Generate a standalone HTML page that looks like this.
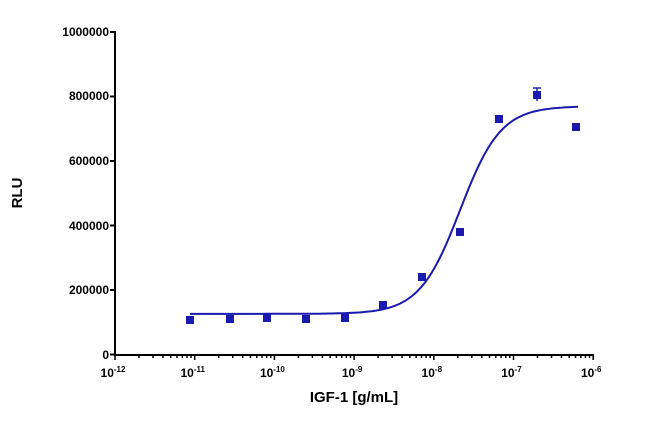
<!DOCTYPE html>
<html><head><style>
body{margin:0;background:#fff;}
svg{display:block;font-family:"Liberation Sans",Arial,sans-serif;font-weight:bold;}
</style></head><body>
<svg id="s" width="650" height="423" xmlns="http://www.w3.org/2000/svg">
<g fill="#000" font-size="12" text-anchor="end">
<text x="109" y="36">1000000</text>
<text x="109" y="100">800000</text>
<text x="109" y="165">600000</text>
<text x="109" y="230">400000</text>
<text x="109" y="294">200000</text>
<text x="109" y="359">0</text>
</g>
<g stroke="#000" stroke-width="2">
<line x1="115" y1="31" x2="115" y2="355"/>
<line x1="114" y1="355" x2="594" y2="355"/>
<line x1="110" y1="32" x2="115" y2="32"/>
<line x1="110" y1="96.5" x2="115" y2="96.5"/>
<line x1="110" y1="161" x2="115" y2="161"/>
<line x1="110" y1="225.5" x2="115" y2="225.5"/>
<line x1="110" y1="290" x2="115" y2="290"/>
<line x1="110" y1="354.5" x2="115" y2="354.5"/>
</g>
<g id="xt" stroke="#000" stroke-width="1.5"></g>
<g id="xl" fill="#000" font-size="12" text-anchor="middle"></g>
<text x="22" y="193" font-size="15" text-anchor="middle" transform="rotate(-90 22 193)">RLU</text>
<text x="354" y="402" font-size="15" text-anchor="middle">IGF-1 [g/mL]</text>
<path id="c" fill="none" stroke="#1a1aae" stroke-width="2"/>
<g id="pts" fill="#1a1aae" stroke="#1a1aae"></g>
</svg>
<script>
var X0=115,D=79.7,ns="http://www.w3.org/2000/svg";
function el(t,a,p){var e=document.createElementNS(ns,t);for(var k in a)e.setAttribute(k,a[k]);document.getElementById(p).appendChild(e);return e;}
for(var d=0;d<6;d++)for(var m=1;m<10;m++){var x=X0+D*(d+Math.log10(m));el('line',{x1:x,x2:x,y1:355,y2:m==1?360:358},'xt');}
el('line',{x1:X0+6*D,x2:X0+6*D,y1:355,y2:360},'xt');
for(var d=0;d<=6;d++){var t=el('text',{x:X0+D*d-2,y:377},'xl');t.innerHTML='10<tspan font-size="8" dy="-5">-'+(12-d)+'</tspan>';}
var p='';for(var x=190;x<=578;x+=2){var lx=-12+(x-X0)/D;var v=126000+(770000-126000)/(1+Math.pow(10,1.7*(-7.67-lx)));var y=354.5-v*0.0003225;p+=(p?'L':'M')+x+' '+y.toFixed(1);}
document.getElementById('c').setAttribute('d',p);
var P=[[190,320],[230,319],[267,318],[306,319],[345,318],[383,305],[422,277],[460,232],[499,119],[537,95],[576,127]];
P.forEach(function(q){el('rect',{x:q[0]-3.5,y:q[1]-3.5,width:7,height:7},'pts');});
el('line',{x1:537,x2:537,y1:88,y2:101,'stroke-width':1.5},'pts');
el('line',{x1:533,x2:541,y1:88,y2:88,'stroke-width':1.5},'pts');
</script>
</body></html>
